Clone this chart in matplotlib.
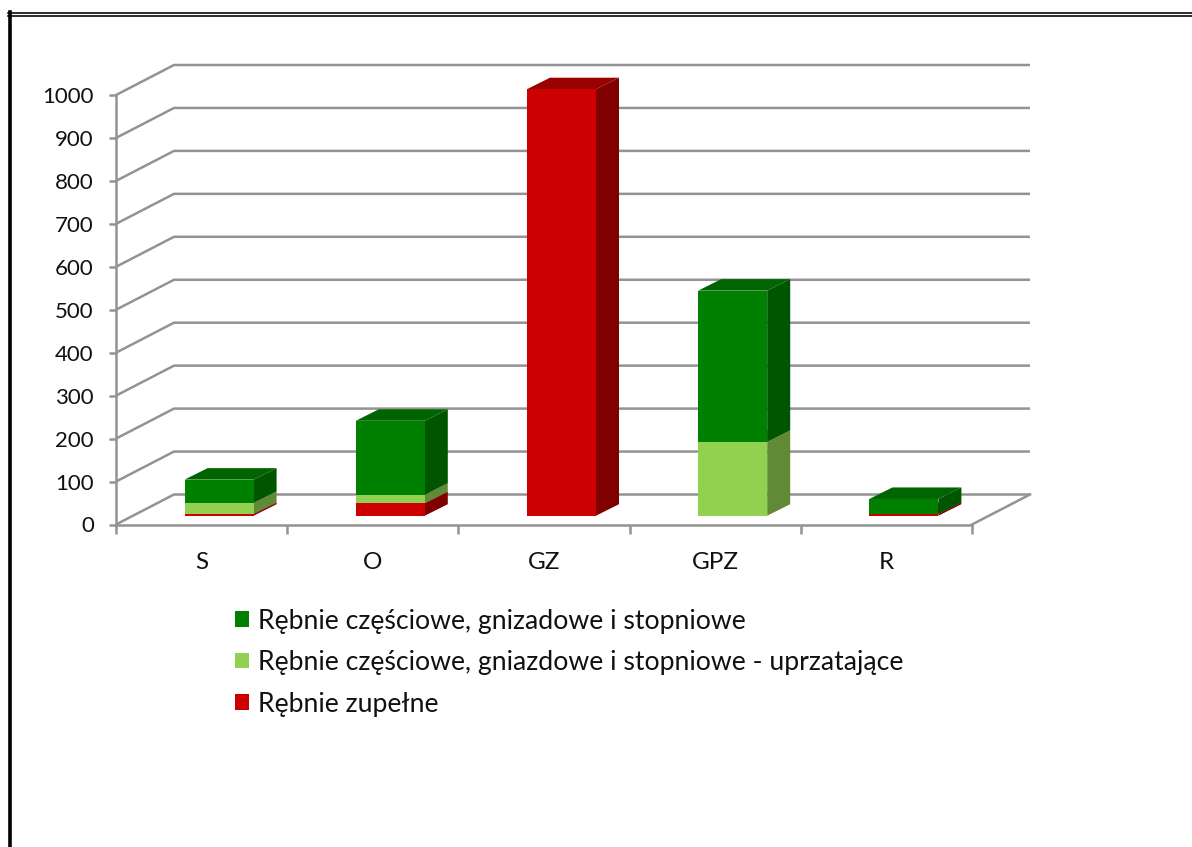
import matplotlib
matplotlib.use('Agg')
import matplotlib.pyplot as plt
from matplotlib.lines import Line2D
import numpy as np

plt.rcParams['font.family'] = ['Lato', 'DejaVu Sans']

categories = ['S', 'O', 'GZ', 'GPZ', 'R']
zupelne = [4, 29, 993, 0, 4]
uprzatajace = [26, 20, 0, 172, 0]
czesciowe = [54, 172, 0, 352, 35]

labels = ['Rębnie częściowe, gnizadowe i stopniowe',
          'Rębnie częściowe, gniazdowe i stopniowe - uprzatające',
          'Rębnie zupełne']
yticks = list(range(0, 1100, 100))

W, H = 1192, 847
fig = plt.figure(figsize=(W / 100, H / 100), dpi=100)
# axes = the front plane of the fake 3D box
ax = fig.add_axes([116 / W, 1 - 524.5 / H, (972 - 116) / W, (524.5 - 95) / H])
ax.set_xlim(0, 5)
ax.set_ylim(0, 1000)
ax.patch.set_visible(False)

# pixel sizes turned into data units
px_x = 5 / (972 - 116)
px_y = 1000 / (524.5 - 95)
wall_dx, wall_dy = 58 * px_x, 30 * px_y
bar_dx, bar_dy = 23 * px_x, 11.5 * px_y
bar_w = 69 * px_x
bar_shift = 17.5 * px_x
floor = 8.8 * px_y

grey = '#939393'
lw = 1.8

# walls
for v in yticks:
    ax.plot([0, wall_dx, 5 + wall_dx], [v, v + wall_dy, v + wall_dy],
            color=grey, lw=lw, clip_on=False, zorder=1, solid_capstyle='butt')
ax.plot([5, 5 + wall_dx], [0, wall_dy], color=grey, lw=lw, clip_on=False, zorder=1)


def box(xs, bottom, values, front, side, top, label):
    xs = np.asarray(xs, dtype=float)
    for x, b, v in zip(xs, bottom, values):
        if v == 0:
            continue
        x1 = x + bar_w / 2
        ax.fill([x1, x1 + bar_dx, x1 + bar_dx, x1],
                [b, b + bar_dy, b + v + bar_dy, b + v],
                color=side, lw=0, clip_on=False, zorder=3)
        ax.fill([x - bar_w / 2, x1, x1 + bar_dx, x - bar_w / 2 + bar_dx],
                [b + v, b + v, b + v + bar_dy, b + v + bar_dy],
                color=top, lw=0, clip_on=False, zorder=3)
    ax.bar(xs, values, bar_w, bottom=bottom, color=front, label=label, zorder=4, clip_on=False)


pos = np.arange(len(categories)) + 0.5 + bar_shift
base = np.full(len(categories), floor)
b1 = base
b2 = b1 + np.array(zupelne)
b3 = b2 + np.array(uprzatajace)
box(pos, b1, zupelne, '#cc0000', '#800000', '#990000', labels[2])
box(pos, b2, uprzatajace, '#92d050', '#608a35', '#6f9e3d', labels[1])
box(pos, b3, czesciowe, '#008000', '#005500', '#006400', labels[0])

# axes
for s in ['top', 'right']:
    ax.spines[s].set_visible(False)
for s in ['left', 'bottom']:
    ax.spines[s].set_color(grey)
    ax.spines[s].set_linewidth(lw)
    ax.spines[s].set_zorder(2)
ax.set_yticks(yticks)
ax.set_xticks(range(6))
ax.set_xticklabels([])
ax.set_xticks(np.arange(5) + 0.5, categories, minor=True)
ax.tick_params(axis='x', which='major', length=6.5, width=lw, color=grey)
ax.tick_params(axis='x', which='minor', length=0, pad=20, labelsize=17.5, labelcolor='#111111')
ax.tick_params(axis='y', length=5, width=lw, color=grey, pad=11, labelsize=16, labelcolor='#111111')

handles, leg_labels = ax.get_legend_handles_labels()
order = [2, 1, 0]
fig.legend([handles[i] for i in order], [leg_labels[i] for i in order],
           loc='upper left', bbox_to_anchor=(235 / W, 1 - 608.5 / H), frameon=False,
           fontsize=19.2, handlelength=0.52, handleheight=0.52, handletextpad=0.34,
           labelspacing=0.62, borderpad=0, borderaxespad=0, labelcolor='#111111')

# outer frame of the scanned page
fig.add_artist(Line2D([8 / W, 1], [1 - 13.1 / H] * 2, color='black', lw=1.15, transform=fig.transFigure))
fig.add_artist(Line2D([8 / W, 1], [1 - 15.7 / H] * 2, color='black', lw=1.15, transform=fig.transFigure))
fig.add_artist(Line2D([9.5 / W] * 2, [0, 1 - 12.5 / H], color='black', lw=2.6, transform=fig.transFigure))

fig.savefig('out.png', dpi=100)
